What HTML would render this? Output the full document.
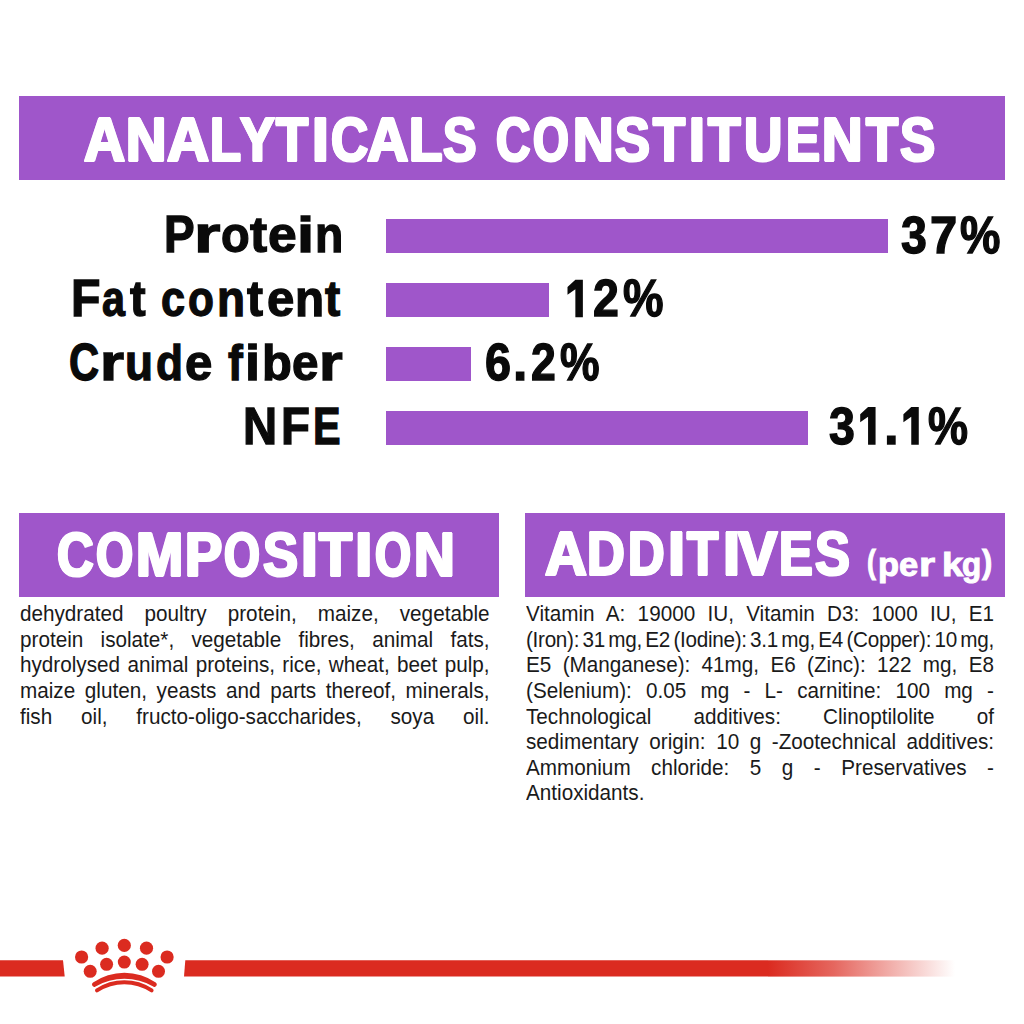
<!DOCTYPE html>
<html>
<head>
<meta charset="utf-8">
<style>
html,body{margin:0;padding:0;background:#fff;}
body{width:1024px;height:1024px;position:relative;overflow:hidden;font-family:"Liberation Sans",sans-serif;}
.box{position:absolute;background:#9f56ca;}
.t{position:absolute;white-space:pre;line-height:1;transform-origin:0 0;}
.run{position:absolute;left:0;width:1024px;height:1px;line-height:1;}
.g{position:absolute;top:0;white-space:pre;transform-origin:0 0;}
.bd{position:absolute;line-height:1;color:#1a1a1a;white-space:nowrap;text-align:justify;text-align-last:justify;}
</style>
</head>
<body>
<div class="box" style="left:19px;top:96px;width:986.00px;height:84.00px;"></div>
<div class="box" style="left:386px;top:219.2px;width:502.00px;height:33.50px;"></div>
<div class="box" style="left:386px;top:283.2px;width:163.00px;height:33.50px;"></div>
<div class="box" style="left:386px;top:347.2px;width:84.50px;height:33.50px;"></div>
<div class="box" style="left:386px;top:411.1px;width:422.00px;height:33.50px;"></div>
<div class="box" style="left:19px;top:513px;width:480.00px;height:83.50px;"></div>
<div class="box" style="left:525px;top:513px;width:479.50px;height:83.50px;"></div>
<div class="run" id="h1" style="top:108.55px;font-size:62.2px;font-weight:700;color:#fff;-webkit-text-stroke:2.2px #fff;text-shadow:1.6px 0 #fff,-1.6px 0 #fff;"><span class="g" style="left:84.20px;transform:scaleX(0.9138)">A</span><span class="g" style="left:126.13px;transform:scaleX(0.8981)">N</span><span class="g" style="left:167.09px;transform:scaleX(0.9360)">A</span><span class="g" style="left:209.66px;transform:scaleX(0.8152)">L</span><span class="g" style="left:239.67px;transform:scaleX(0.8392)">Y</span><span class="g" style="left:276.05px;transform:scaleX(0.8478)">T</span><span class="g" style="left:311.57px;transform:scaleX(0.9693)">I</span><span class="g" style="left:330.95px;transform:scaleX(0.8280)">C</span><span class="g" style="left:366.68px;transform:scaleX(0.9222)">A</span><span class="g" style="left:408.68px;transform:scaleX(0.8765)">L</span><span class="g" style="left:442.77px;transform:scaleX(0.8056)">S</span><span class="g" style="left:495.99px;transform:scaleX(0.7669)">C</span><span class="g" style="left:533.10px;transform:scaleX(0.7388)">O</span><span class="g" style="left:573.26px;transform:scaleX(0.9009)">N</span><span class="g" style="left:614.78px;transform:scaleX(0.8441)">S</span><span class="g" style="left:653.19px;transform:scaleX(0.8453)">T</span><span class="g" style="left:689.35px;transform:scaleX(0.9144)">I</span><span class="g" style="left:708.39px;transform:scaleX(0.8584)">T</span><span class="g" style="left:743.75px;transform:scaleX(0.8544)">U</span><span class="g" style="left:786.08px;transform:scaleX(0.8208)">E</span><span class="g" style="left:822.19px;transform:scaleX(0.9009)">N</span><span class="g" style="left:866.04px;transform:scaleX(0.8453)">T</span><span class="g" style="left:900.16px;transform:scaleX(0.8482)">S</span></div>
<div class="run" id="h2" style="top:523.75px;font-size:62.2px;font-weight:700;color:#fff;-webkit-text-stroke:2.2px #fff;text-shadow:1.6px 0 #fff,-1.6px 0 #fff;"><span class="g" style="left:57.37px;transform:scaleX(0.8175)">C</span><span class="g" style="left:96.44px;transform:scaleX(0.7681)">O</span><span class="g" style="left:135.79px;transform:scaleX(0.9108)">M</span><span class="g" style="left:184.68px;transform:scaleX(0.8964)">P</span><span class="g" style="left:224.10px;transform:scaleX(0.7416)">O</span><span class="g" style="left:263.47px;transform:scaleX(0.8468)">S</span><span class="g" style="left:300.58px;transform:scaleX(0.9693)">I</span><span class="g" style="left:319.11px;transform:scaleX(0.8684)">T</span><span class="g" style="left:354.62px;transform:scaleX(1.0046)">I</span><span class="g" style="left:375.09px;transform:scaleX(0.7456)">O</span><span class="g" style="left:414.20px;transform:scaleX(0.9075)">N</span></div>
<div class="run" id="h3" style="top:523.45px;font-size:62.2px;font-weight:700;color:#fff;-webkit-text-stroke:2.2px #fff;text-shadow:1.6px 0 #fff,-1.6px 0 #fff;"><span class="g" style="left:545.16px;transform:scaleX(0.9313)">A</span><span class="g" style="left:587.08px;transform:scaleX(0.8412)">D</span><span class="g" style="left:627.66px;transform:scaleX(0.8139)">D</span><span class="g" style="left:668.13px;transform:scaleX(0.9850)">I</span><span class="g" style="left:687.14px;transform:scaleX(0.8250)">T</span><span class="g" style="left:722.80px;transform:scaleX(0.9850)">I</span><span class="g" style="left:737.74px;transform:scaleX(0.9474)">V</span><span class="g" style="left:779.27px;transform:scaleX(0.8146)">E</span><span class="g" style="left:814.54px;transform:scaleX(0.8414)">S</span></div>
<div class="run" id="h4" style="top:547.50px;font-size:33.5px;font-weight:700;color:#fff;-webkit-text-stroke:1.0px #fff;"><span class="g" style="left:866.88px;top:-2.2px;transform:scaleX(0.7994)">(</span><span class="g" style="left:878.15px;transform:scaleX(1.0272)">p</span><span class="g" style="left:899.43px;transform:scaleX(1.0286)">e</span><span class="g" style="left:918.59px;transform:scaleX(1.2353)">r</span><span class="g" style="left:942.46px;transform:scaleX(1.1408)">k</span><span class="g" style="left:962.16px;transform:scaleX(0.9380)">g</span><span class="g" style="left:982.21px;top:-2.2px;transform:scaleX(0.9183)">)</span></div>
<div class="run" id="l1" style="top:208.40px;font-size:52.55px;font-weight:700;color:#0a0a0a;-webkit-text-stroke:1.35px #0a0a0a;"><span class="g" style="left:164.25px;transform:scaleX(0.8738)">P</span><span class="g" style="left:193.80px;transform-origin:0 44.60px;transform:scale(1.2914,0.953)">r</span><span class="g" style="left:221.22px;transform-origin:0 44.60px;transform:scale(0.8933,0.953)">o</span><span class="g" style="left:250.00px;transform-origin:0 44.60px;transform:scale(0.9791,0.953)">t</span><span class="g" style="left:267.79px;transform-origin:0 44.60px;transform:scale(0.9822,0.953)">e</span><span class="g" style="left:297.16px;transform-origin:0 44.60px;transform:scale(1.1714,0.953)">i</span><span class="g" style="left:315.15px;transform-origin:0 44.60px;transform:scale(0.8811,0.953)">n</span></div>
<div class="run" id="l2" style="top:272.40px;font-size:52.55px;font-weight:700;color:#0a0a0a;-webkit-text-stroke:1.35px #0a0a0a;"><span class="g" style="left:70.67px;transform:scaleX(0.9183)">F</span><span class="g" style="left:101.61px;transform-origin:0 44.60px;transform:scale(0.7849,0.953)">a</span><span class="g" style="left:130.09px;transform-origin:0 44.60px;transform:scale(0.8935,0.953)">t</span><span class="g" style="left:161.40px;transform-origin:0 44.60px;transform:scale(0.8220,0.953)">c</span><span class="g" style="left:187.72px;transform-origin:0 44.60px;transform:scale(0.8076,0.953)">o</span><span class="g" style="left:216.71px;transform-origin:0 44.60px;transform:scale(0.8726,0.953)">n</span><span class="g" style="left:246.80px;transform-origin:0 44.60px;transform:scale(0.9160,0.953)">t</span><span class="g" style="left:266.52px;transform-origin:0 44.60px;transform:scale(0.9360,0.953)">e</span><span class="g" style="left:295.14px;transform-origin:0 44.60px;transform:scale(0.9067,0.953)">n</span><span class="g" style="left:325.49px;transform-origin:0 44.60px;transform:scale(0.8708,0.953)">t</span></div>
<div class="run" id="l3" style="top:336.00px;font-size:52.55px;font-weight:700;color:#0a0a0a;-webkit-text-stroke:1.35px #0a0a0a;"><span class="g" style="left:68.72px;transform:scaleX(0.7927)">C</span><span class="g" style="left:99.67px;transform-origin:0 45.20px;transform:scale(1.1734,0.953)">r</span><span class="g" style="left:125.18px;transform-origin:0 45.20px;transform:scale(0.8732,0.953)">u</span><span class="g" style="left:156.40px;transform-origin:0 45.20px;transform:scale(0.8406,0.953)">d</span><span class="g" style="left:185.33px;transform-origin:0 45.20px;transform:scale(0.9360,0.953)">e</span><span class="g" style="left:228.41px;transform-origin:0 45.20px;transform:scale(0.8460,0.953)">f</span><span class="g" style="left:244.87px;transform-origin:0 45.20px;transform:scale(1.0280,0.953)">i</span><span class="g" style="left:261.57px;transform-origin:0 45.20px;transform:scale(0.9295,0.953)">b</span><span class="g" style="left:291.68px;transform-origin:0 45.20px;transform:scale(0.9059,0.953)">e</span><span class="g" style="left:318.61px;transform-origin:0 45.20px;transform:scale(1.1557,0.953)">r</span></div>
<div class="run" id="l4" style="top:399.80px;font-size:52.55px;font-weight:700;color:#0a0a0a;-webkit-text-stroke:1.35px #0a0a0a;"><span class="g" style="left:243.02px;transform:scaleX(0.8996)">N</span><span class="g" style="left:280.81px;transform:scaleX(0.9009)">F</span><span class="g" style="left:313.42px;transform:scaleX(0.7868)">E</span></div>
<div class="run" id="v1" style="top:208.70px;font-size:52.55px;font-weight:700;color:#0a0a0a;-webkit-text-stroke:1.35px #0a0a0a;"><span class="g" style="left:901.48px;transform:scaleX(0.8844)">3</span><span class="g" style="left:929.55px;transform:scaleX(0.9309)">7</span><span class="g" style="left:959.81px;transform:scaleX(0.8644)">%</span></div>
<div class="run" id="v2" style="top:272.00px;font-size:52.55px;font-weight:700;color:#0a0a0a;-webkit-text-stroke:1.35px #0a0a0a;"><span class="g" style="left:593.15px;transform:scaleX(0.8856)">2</span><span class="g" style="left:622.71px;transform:scaleX(0.8672)">%</span></div>
<div class="run" id="v3" style="top:336.40px;font-size:52.55px;font-weight:700;color:#0a0a0a;-webkit-text-stroke:1.35px #0a0a0a;"><span class="g" style="left:484.98px;transform:scaleX(0.8898)">6</span><span class="g" style="left:513.30px;transform:scaleX(0.9811)">.</span><span class="g" style="left:530.77px;transform:scaleX(0.8486)">2</span><span class="g" style="left:560.14px;transform:scaleX(0.8470)">%</span></div>
<div class="run" id="v4" style="top:400.40px;font-size:52.55px;font-weight:700;color:#0a0a0a;-webkit-text-stroke:1.35px #0a0a0a;"><span class="g" style="left:828.68px;transform:scaleX(0.8844)">3</span><span class="g" style="left:883.80px;transform:scaleX(1.0039)">.</span><span class="g" style="left:928.32px;transform:scaleX(0.8566)">%</span></div>
<div class="bd" style="left:20px;top:603.20px;width:480.85px;font-size:21.2px;transform:scaleX(0.9764);transform-origin:0 0;">dehydrated poultry protein, maize, vegetable</div>
<div class="bd" style="left:20px;top:628.80px;width:480.85px;font-size:21.2px;transform:scaleX(0.9764);transform-origin:0 0;">protein isolate*, vegetable fibres, animal fats,</div>
<div class="bd" style="left:20px;top:654.40px;width:480.85px;font-size:21.2px;transform:scaleX(0.9764);transform-origin:0 0;">hydrolysed animal proteins, rice, wheat, beet pulp,</div>
<div class="bd" style="left:20px;top:680.00px;width:480.85px;font-size:21.2px;transform:scaleX(0.9764);transform-origin:0 0;">maize gluten, yeasts and parts thereof, minerals,</div>
<div class="bd" style="left:20px;top:705.60px;width:480.85px;font-size:21.2px;transform:scaleX(0.9764);transform-origin:0 0;">fish oil, fructo-oligo-saccharides, soya oil.</div>
<div class="bd" style="left:526px;top:603.20px;width:479.31px;font-size:21.2px;transform:scaleX(0.9764);transform-origin:0 0;">Vitamin A: 19000 IU, Vitamin D3: 1000 IU, E1</div>
<div class="bd" style="left:526px;top:628.80px;width:479.31px;font-size:21.2px;transform:scaleX(0.9764);transform-origin:0 0;word-spacing:-2.3px;letter-spacing:-0.3px;">(Iron): 31 mg, E2 (Iodine): 3.1 mg, E4 (Copper): 10 mg,</div>
<div class="bd" style="left:526px;top:654.40px;width:479.31px;font-size:21.2px;transform:scaleX(0.9764);transform-origin:0 0;">E5 (Manganese): 41mg, E6 (Zinc): 122 mg, E8</div>
<div class="bd" style="left:526px;top:680.00px;width:479.31px;font-size:21.2px;transform:scaleX(0.9764);transform-origin:0 0;">(Selenium): 0.05 mg - L- carnitine: 100 mg -</div>
<div class="bd" style="left:526px;top:705.60px;width:479.31px;font-size:21.2px;transform:scaleX(0.9764);transform-origin:0 0;">Technological additives: Clinoptilolite of</div>
<div class="bd" style="left:526px;top:731.20px;width:479.31px;font-size:21.2px;transform:scaleX(0.9764);transform-origin:0 0;">sedimentary origin: 10 g -Zootechnical additives:</div>
<div class="bd" style="left:526px;top:756.80px;width:479.31px;font-size:21.2px;transform:scaleX(0.9764);transform-origin:0 0;">Ammonium chloride: 5 g - Preservatives -</div>
<div class="bd" style="left:526px;top:782.40px;width:479.31px;font-size:21.2px;transform:scaleX(0.9764);transform-origin:0 0;text-align-last:left;">Antioxidants.</div>
<svg style="position:absolute;left:0;top:0" width="1024" height="1024" viewBox="0 0 1024 1024">
<defs>
<linearGradient id="fade" x1="768" y1="0" x2="955" y2="0" gradientUnits="userSpaceOnUse">
<stop offset="0" stop-color="#db2b20" stop-opacity="1"/>
<stop offset="0.35" stop-color="#db2b20" stop-opacity="0.72"/>
<stop offset="1" stop-color="#db2b20" stop-opacity="0"/>
</linearGradient>
</defs>
<path d="M0 960.3 H63 L64.7 976.6 H0 Z" fill="#db2b20"/>
<path d="M185.3 960.3 H768 V976.6 H184 Z" fill="#db2b20"/>
<rect x="768" y="960.3" width="190" height="16.3" fill="url(#fade)"/>
<g fill="#db2b20">
<circle cx="81.6" cy="957" r="6.6"/>
<circle cx="90.2" cy="971.3" r="6.5"/>
<circle cx="102.1" cy="948.2" r="6.6"/>
<circle cx="106.6" cy="964.3" r="6.5"/>
<circle cx="124.3" cy="945.4" r="6.6"/>
<circle cx="124.3" cy="962.1" r="6.5"/>
<circle cx="146.5" cy="948.2" r="6.6"/>
<circle cx="142.1" cy="964.3" r="6.5"/>
<circle cx="167.1" cy="957" r="6.6"/>
<circle cx="158.5" cy="971.3" r="6.5"/>
</g>
<path fill="#db2b20" d="M93.03 982.58 A55.2 55.2 0 0 1 155.77 982.58 A2.3 2.3 0 0 1 153.23 986.42 A57.7 57.7 0 0 0 95.57 986.42 A2.3 2.3 0 0 1 93.03 982.58 Z"/>
<path fill="none" stroke="#db2b20" stroke-linecap="round" stroke-width="4.0" d="M97 990.3 A49.8 49.8 0 0 1 151.6 990.3"/>
</svg>
<svg style="position:absolute;left:0;top:0" width="1024" height="1024" viewBox="0 0 1024 1024"><g fill="#0a0a0a"><polygon points="567.50,286.90 575.36,279.70 582.87,279.70 582.87,317.30 575.36,317.30 575.36,289.30 567.50,294.74"/><polygon points="860.20,414.30 868.06,407.10 875.57,407.10 875.57,444.70 868.06,444.70 868.06,416.70 860.20,422.14"/><polygon points="903.40,414.30 911.26,407.10 918.77,407.10 918.77,444.70 911.26,444.70 911.26,416.70 903.40,422.14"/></g></svg>
</body>
</html>
